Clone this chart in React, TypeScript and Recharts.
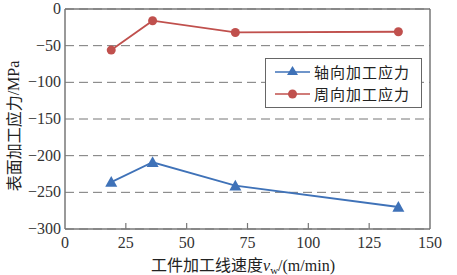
import React from 'react';
import { LineChart, Line, XAxis, YAxis, CartesianGrid, ReferenceLine, Legend } from 'recharts';

const speeds = [19, 36, 70, 137];
const axialStress = [-236, -209, -241, -270];
const hoopStress = [-56, -16, -32, -31];
const xTicks = [0, 25, 50, 75, 100, 125, 150];
const yTicks = [0, -50, -100, -150, -200, -250, -300];
const axialName = '轴向加工应力';
const hoopName = '周向加工应力';
const seriesOrder = ['axial', 'hoop'];

const data = speeds.map((v, i) => ({ v, axial: axialStress[i], hoop: hoopStress[i] }));

const BLUE = '#3f72b8';
const RED = '#c0504d';
const AXIS = '#777777';
const SERIF = '"Liberation Serif", "Noto Sans CJK SC", serif';
const CJK = '"Noto Sans CJK SC", "Liberation Serif", serif';

const Triangle = (props: any) => {
  const { cx, cy, key } = props;
  if (cx == null || cy == null) return <g key={key} />;
  const s = 6;
  return (
    <polygon
      key={key}
      points={`${cx},${cy - s} ${cx - s},${cy + s * 0.8} ${cx + s},${cy + s * 0.8}`}
      fill={BLUE}
    />
  );
};

const Circle = (props: any) => {
  const { cx, cy, key } = props;
  if (cx == null || cy == null) return <g key={key} />;
  return <circle key={key} cx={cx} cy={cy} r={4.5} fill={RED} />;
};

const XTick = (props: any) => {
  const { x, y, payload, index } = props;
  const inner = index > 0 && index < xTicks.length - 1;
  return (
    <g>
      {inner && <line x1={x} y1={y} x2={x} y2={y - 6} stroke={AXIS} strokeWidth={1.2} />}
      <text x={x} y={y + 19} textAnchor="middle" fontSize={16} fontFamily={SERIF} fill="#333">
        {payload.value}
      </text>
    </g>
  );
};

const YTick = (props: any) => {
  const { x, y, payload } = props;
  const v = payload.value;
  const label = v < 0 ? `\u2212${Math.abs(v)}` : `${v}`;
  return (
    <text x={x} y={y + 5} textAnchor="end" fontSize={16} fontFamily={SERIF} fill="#333">
      {label}
    </text>
  );
};

const renderLegend = (props: any) => {
  const payload = [...(props.payload || [])].sort(
    (a: any, b: any) => seriesOrder.indexOf(a.dataKey) - seriesOrder.indexOf(b.dataKey)
  );
  return (
    <div
      style={{
        width: 157,
        height: 50,
        border: '1px solid #666',
        background: '#fff',
        boxSizing: 'border-box',
        paddingTop: 2,
      }}
    >
      {payload.map((p: any, i: number) => (
        <div key={i} style={{ display: 'flex', alignItems: 'center', height: 22 }}>
          <svg width={48} height={22} style={{ display: 'block' }}>
            <line x1={9} y1={11} x2={44} y2={11} stroke={p.color} strokeWidth={1.5} />
            {p.dataKey === 'axial' ? (
              <polygon points="26.5,5 21,14 32,14" fill={p.color} />
            ) : (
              <circle cx={26.5} cy={11} r={4.5} fill={p.color} />
            )}
          </svg>
          <div
            style={{
              fontFamily: CJK,
              fontSize: 15,
              letterSpacing: 1,
              color: '#222',
              lineHeight: '22px',
              height: 22,
              whiteSpace: 'nowrap',
            }}
          >
            {p.value}
          </div>
        </div>
      ))}
    </div>
  );
};

export default function App() {
  return (
    <div style={{ position: 'absolute', left: 0, top: 0, width: 457, height: 275, background: '#fff' }}>
      <LineChart width={457} height={275} data={data} margin={{ top: 9, right: 27, bottom: 0, left: 0 }}>
        <CartesianGrid vertical={false} horizontal stroke="#777" strokeDasharray="9 5" strokeWidth={1} />
        <XAxis
          dataKey="v"
          type="number"
          domain={[0, 150]}
          ticks={xTicks}
          interval={0}
          height={46}
          tickSize={0}
          tickMargin={0}
          tickLine={false}
          tick={<XTick />}
          axisLine={{ stroke: AXIS, strokeWidth: 1.5 }}
          label={{
            content: () => (
              <text x={243} y={271} textAnchor="middle" fontSize={16} fill="#222">
                <tspan fontFamily={CJK}>工件加工线速度</tspan>
                <tspan fontFamily={SERIF} fontStyle="italic">v</tspan>
                <tspan fontFamily={SERIF} fontSize={11} dy={3}>w</tspan>
                <tspan fontFamily={SERIF} dy={-3}>/(m/min)</tspan>
              </text>
            ),
          }}
        />
        <YAxis
          type="number"
          domain={[-300, 0]}
          ticks={yTicks}
          interval={0}
          width={65}
          tickSize={0}
          tickMargin={4}
          tickLine={false}
          tick={<YTick />}
          axisLine={{ stroke: AXIS, strokeWidth: 1.5 }}
          label={{
            content: () => (
              <text
                x={13}
                y={126}
                transform="rotate(-90, 13, 126)"
                textAnchor="middle"
                dominantBaseline="central"
                fontSize={16}
                fill="#222"
              >
                <tspan fontFamily={CJK}>表面加工应力</tspan>
                <tspan fontFamily={SERIF}>/MPa</tspan>
              </text>
            ),
          }}
        />
        <ReferenceLine y={0} stroke={AXIS} strokeWidth={1.5} />
        <ReferenceLine x={150} stroke={AXIS} strokeWidth={1.5} />
        <Legend
          layout="vertical"
          align="center"
          verticalAlign="middle"
          content={renderLegend}
          wrapperStyle={{ left: 265, top: 58, width: 157, height: 50 }}
        />
        <Line
          name={axialName}
          dataKey="axial"
          stroke={BLUE}
          strokeWidth={1.8}
          dot={Triangle}
          activeDot={false}
          isAnimationActive={false}
        />
        <Line
          name={hoopName}
          dataKey="hoop"
          stroke={RED}
          strokeWidth={1.8}
          dot={Circle}
          activeDot={false}
          isAnimationActive={false}
        />
      </LineChart>
    </div>
  );
}
